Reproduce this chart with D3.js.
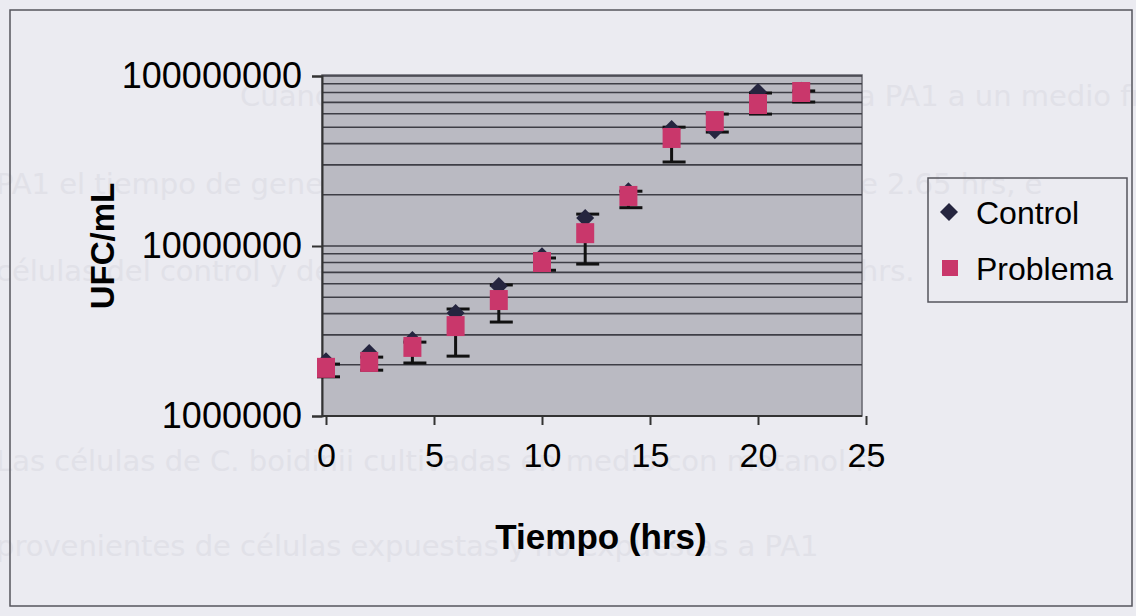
<!DOCTYPE html>
<html>
<head>
<meta charset="utf-8">
<script src="https://cdn.jsdelivr.net/npm/d3@7"></script>
<style>
  body { margin: 0; background: #ebebf1; }
  svg { display: block; }
</style>
</head>
<body>
<svg width="1136" height="616"></svg>
<script>
// Data
const tiempo = [0, 2, 4, 6, 8, 10, 12, 14, 16, 18, 20, 22];
const control = [2.1e6, 2.35e6, 2.8e6, 4.04e6, 5.82e6, 8.7e6, 1.46e7, 2.1e7, 4.88e7, 4.8e7, 8.05e7, 8.2e7];
const problema = [1.92e6, 2.08e6, 2.55e6, 3.38e6, 4.81e6, 8.05e6, 1.19e7, 1.97e7, 4.32e7, 5.43e7, 6.84e7, 8.05e7];
const problemaHigh = [2.02e6, 2.22e6, 2.72e6, 4.26e6, 5.9e6, 8.5e6, 1.54e7, 2.1e7, 5.0e7, 5.97e7, 7.94e7, 8.17e7];
const problemaLow = [1.70e6, 1.86e6, 2.05e6, 2.25e6, 3.57e6, 7.2e6, 7.83e6, 1.68e7, 3.12e7, 4.68e7, 5.97e7, 7.03e7];
const xTicks = [0, 5, 10, 15, 20, 25];
const yTicks = [1e6, 1e7, 1e8];
const series = ["Control", "Problema"];

// Faint text of the page behind the chart
const ghostLines = [
  { text: "Cuando se transfirieron células expuestas a PA1 a un medio fresco", x: 240, y: 106 },
  { text: "PA1 el tiempo de generación de las células expuestas fue de 2.65 hrs, e", x: -4, y: 194 },
  { text: "células del control y de las que se transfirieron fue de 2.65 hrs.", x: -4, y: 281 },
  { text: "Las células de C. boidinii cultivadas en medio con metanol fr", x: -4, y: 471 },
  { text: "provenientes  de  células  expuestas  y  no  expuestas  a  PA1", x: -4, y: 556 }
];

const svg = d3.select("svg");

const colorControl = "#25253f";
const colorProblema = "#c9376b";
const gridColor = "#3e3e46";

// Plot area and scales
const plot = { left: 322, right: 862, top: 75, bottom: 416 };
const x = d3.scaleLinear().domain([0, 25]).range([326, 866]);
const y = d3.scaleLog().domain([1e6, 1e8]).range([416, 76]);

// page text showing through, very faint
svg.append("g")
  .selectAll("text")
  .data(ghostLines)
  .enter()
  .append("text")
  .attr("x", d => d.x)
  .attr("y", d => d.y)
  .attr("fill", "#e1e1e8")
  .style("font-family", "'DejaVu Sans', sans-serif")
  .style("font-size", "29px")
  .text(d => d.text);

// chart frame
svg.append("rect")
  .attr("x", 10).attr("y", 10)
  .attr("width", 1122).attr("height", 596)
  .attr("fill", "none")
  .attr("stroke", "#55555c")
  .attr("stroke-width", 1.5);

// gray plot area
svg.append("rect")
  .attr("x", plot.left).attr("y", plot.top)
  .attr("width", plot.right - plot.left)
  .attr("height", plot.bottom - plot.top)
  .attr("fill", "#babac2")
  .attr("stroke", "#66666e")
  .attr("stroke-width", 1.5);

// major and minor gridlines
const gridValues = [];
for (let dec = 1e6; dec < 1e8; dec *= 10) {
  for (let k = 2; k <= 10; k++) gridValues.push(dec * k);
}
svg.append("g")
  .selectAll("line")
  .data(gridValues)
  .enter()
  .append("line")
  .attr("x1", plot.left)
  .attr("x2", plot.right)
  .attr("y1", d => y(d))
  .attr("y2", d => y(d))
  .attr("stroke", gridColor)
  .attr("stroke-width", 1.6);

// y axis
const yAxis = svg.append("g")
  .attr("transform", `translate(${plot.left},0)`)
  .call(d3.axisLeft(y).tickValues(yTicks).tickFormat(d3.format("d")).tickSize(10).tickPadding(10));
yAxis.select(".domain").attr("stroke", "#333").attr("stroke-width", 2);
yAxis.selectAll(".tick line").attr("stroke", "#333").attr("stroke-width", 2);
yAxis.selectAll("text")
  .attr("fill", "#000")
  .style("font-family", "'Liberation Sans', Arial, sans-serif")
  .style("font-size", "36px");

// x axis
const xAxis = svg.append("g")
  .attr("transform", `translate(0,${plot.bottom})`)
  .call(d3.axisBottom(x).tickValues(xTicks).tickSize(9).tickPadding(18).tickSizeOuter(0));
xAxis.select(".domain").attr("d", `M${plot.left},0H${plot.right}`).attr("stroke", "#333").attr("stroke-width", 2);
xAxis.selectAll(".tick line").attr("stroke", "#333").attr("stroke-width", 2);
xAxis.selectAll("text")
  .attr("fill", "#000")
  .style("font-family", "'Liberation Sans', Arial, sans-serif")
  .style("font-size", "34px");

// axis titles
svg.append("text")
  .attr("transform", "translate(114,246) rotate(-90)")
  .attr("text-anchor", "middle")
  .style("font-family", "'Liberation Sans', Arial, sans-serif")
  .style("font-size", "33px")
  .style("font-weight", "bold")
  .text("UFC/mL");

svg.append("text")
  .attr("x", 601)
  .attr("y", 549)
  .attr("text-anchor", "middle")
  .style("font-family", "'Liberation Sans', Arial, sans-serif")
  .style("font-size", "35px")
  .style("font-weight", "bold")
  .text("Tiempo (hrs)");

// error bars of Problema (drawn under the markers)
const errG = svg.append("g")
  .attr("stroke", "#111")
  .attr("stroke-width", 3);
tiempo.forEach((t, i) => {
  const cx = x(t);
  errG.append("line")
    .attr("x1", cx).attr("x2", cx)
    .attr("y1", y(problemaHigh[i])).attr("y2", y(problemaLow[i]));
  [problemaHigh[i], problemaLow[i]].forEach(v => {
    errG.append("line")
      .attr("x1", cx - 9).attr("x2", cx + 14)
      .attr("y1", y(v)).attr("y2", y(v));
  });
});

// Control diamonds
svg.append("g")
  .selectAll("path")
  .data(tiempo)
  .enter()
  .append("path")
  .attr("d", (t, i) => {
    const cx = x(t), cy = y(control[i]);
    return `M${cx},${cy - 9}L${cx + 9},${cy}L${cx},${cy + 9}L${cx - 9},${cy}Z`;
  })
  .attr("fill", colorControl);

// Problema squares
svg.append("g")
  .selectAll("rect")
  .data(tiempo)
  .enter()
  .append("rect")
  .attr("x", t => x(t) - 9)
  .attr("y", (t, i) => y(problema[i]) - 10)
  .attr("width", 18)
  .attr("height", 20)
  .attr("fill", colorProblema);

// legend
const legend = svg.append("g");
legend.append("rect")
  .attr("x", 928).attr("y", 178)
  .attr("width", 199).attr("height", 124)
  .attr("fill", "none")
  .attr("stroke", "#55555c")
  .attr("stroke-width", 1.5);

const legendY = [212, 268];
legend.append("path")
  .attr("d", `M949,${legendY[0] - 9}L958,${legendY[0]}L949,${legendY[0] + 9}L940,${legendY[0]}Z`)
  .attr("fill", colorControl);
legend.append("rect")
  .attr("x", 942).attr("y", legendY[1] - 8)
  .attr("width", 16).attr("height", 16)
  .attr("fill", colorProblema);

legend.selectAll("text")
  .data(series)
  .enter()
  .append("text")
  .attr("x", 976)
  .attr("y", (d, i) => legendY[i] + 12)
  .style("font-family", "'Liberation Sans', Arial, sans-serif")
  .style("font-size", "32px")
  .text(d => d);
</script>
</body>
</html>
